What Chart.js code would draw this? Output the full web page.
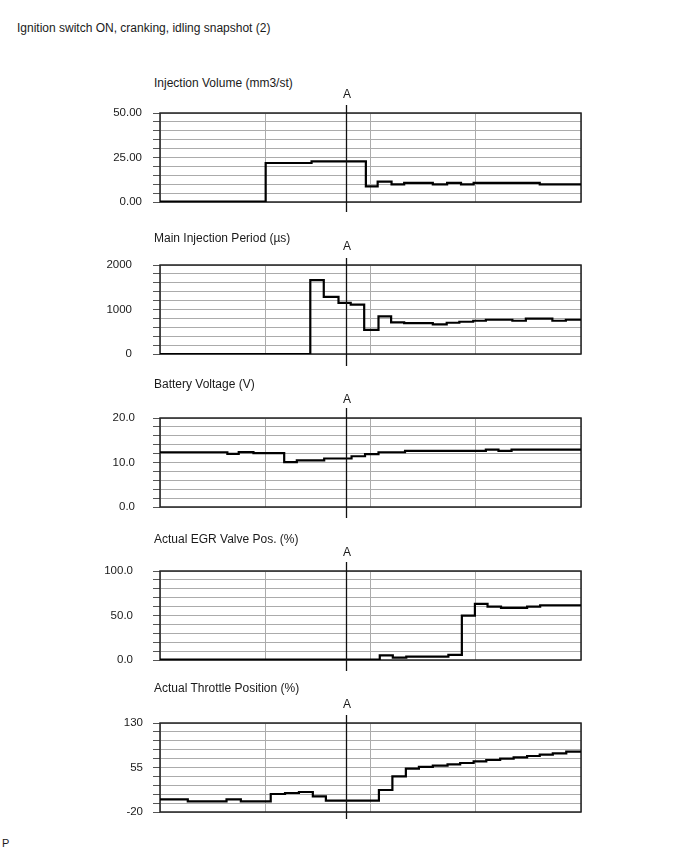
<!DOCTYPE html>
<html>
<head>
<meta charset="utf-8">
<script src="https://cdn.jsdelivr.net/npm/chart.js@4.4.1/dist/chart.umd.min.js"></script>
<style>
  html, body { margin: 0; padding: 0; background: #fff; }
  body { width: 688px; height: 852px; position: relative; overflow: hidden;
         font-family: Arial, "Liberation Sans", sans-serif; color: #1a1a1a; }
  .txt { position: absolute; font-size: 12px; line-height: 14px; white-space: nowrap; }
  canvas { position: absolute; left: 0; }
</style>
</head>
<body>
<div class="txt" style="left:17px;top:21px;">Ignition switch ON, cranking, idling snapshot (2)</div>
<div class="txt" style="left:2px;top:836px;font-size:11px;">P</div>

<script>
// ---------------- DATA ----------------
// Time axis: plot spans 0..100 (4 major divisions); cursor "A" position
const timeMin = 0, timeMax = 100, timeStep = 25;
const cursorTime = 44.2;
const cursorLabel = 'A';

// Panel titles
const titles = [
  'Injection Volume (mm3/st)',
  'Main Injection Period (\u00b5s)',
  'Battery Voltage (V)',
  'Actual EGR Valve Pos. (%)',
  'Actual Throttle Position (%)'
];

// Injection Volume
const injTimes  = [0, 25.1, 36.0, 48.9, 51.7, 55.0, 58.0, 64.8, 68.2, 71.5, 74.5, 90.2, 100];
const injValues = [0.2, 21.9, 22.8, 8.8, 11.4, 9.9, 10.7, 9.9, 10.7, 9.9, 10.7, 9.9, 9.9];
const injTickValues = [0, 25, 50];
const injTickLabels = ['0.00', '25.00', '50.00'];

// Main Injection Period
const mipTimes  = [0, 35.7, 38.9, 42.4, 45.3, 48.5, 51.9, 54.9, 58.0, 64.8, 68.1, 71.1, 74.4, 77.4, 83.7, 86.9, 93.2, 96.4, 100];
const mipValues = [0, 1660, 1283, 1147, 1110, 543, 845, 709, 694, 665, 702, 725, 747, 770, 747, 793, 747, 770, 770];
const mipTickValues = [0, 1000, 2000];
const mipTickLabels = ['0', '1000', '2000'];

// Battery Voltage
const batTimes  = [0, 16.0, 18.7, 22.2, 29.5, 32.5, 39.0, 45.5, 48.7, 51.9, 58.2, 77.4, 80.4, 83.5, 100];
const batValues = [12.3, 11.95, 12.35, 12.1, 10.1, 10.5, 10.9, 11.4, 11.9, 12.3, 12.6, 12.9, 12.6, 12.9, 12.9];
const batTickValues = [0, 10, 20];
const batTickLabels = ['0.0', '10.0', '20.0'];

// Actual EGR Valve Pos.
const egrTimes  = [0, 52.2, 55.3, 58.5, 68.5, 71.7, 74.8, 77.8, 81.0, 87.2, 90.3, 100];
const egrValues = [0.5, 5.3, 2.6, 3.8, 5.7, 49.8, 63, 60, 58.5, 60, 61.5, 61.5];
const egrTickValues = [0, 50, 100];
const egrTickLabels = ['0.0', '50.0', '100.0'];

// Actual Throttle Position
const thrTimes  = [0, 6.6, 15.8, 19.2, 26.3, 29.7, 33.0, 36.3, 39.4, 52.0, 55.2, 58.4, 61.5, 64.8, 68.3, 71.3, 74.5, 77.5, 80.8, 84.0, 87.2, 90.2, 93.3, 96.5, 100];
const thrValues = [1.4, -2, 1.4, -2, 10.3, 12, 13.7, 6.5, -0.8, 17.1, 40.2, 53.1, 55.9, 58.1, 60.4, 62.6, 65.4, 67.6, 69.9, 72.2, 74.4, 76.7, 78.9, 81.8, 81.8];
const thrTickValues = [-20, 55, 130];
const thrTickLabels = ['-20', '55', '130'];

// Y ranges (min, max, minor step)
const yMins  = [0, 0, 0, 0, -20];
const yMaxs  = [50, 2000, 20, 100, 130];
const ySteps = [5, 200, 2, 10, 15];

// ---------------- LAYOUT ----------------
const plotTops = [113, 265, 418, 571, 723];
const titleTops = [76, 231, 377, 532, 681];
const plotLeft = 160, plotRight = 581, plotHeight = 89;
const padTop = 40, padBottom = 40;
const canvasH = padTop + plotHeight + padBottom;
const cursorAbove = [8, 7, 10, 9, 8];
const cursorBelow = [10, 12, 11, 11, 7];
const tickPads = [11, 21, 18, 20, 10];

const series = [
  [injTimes, injValues, injTickValues, injTickLabels],
  [mipTimes, mipValues, mipTickValues, mipTickLabels],
  [batTimes, batValues, batTickValues, batTickLabels],
  [egrTimes, egrValues, egrTickValues, egrTickLabels],
  [thrTimes, thrValues, thrTickValues, thrTickLabels]
];

const FONT = 'Arial, "Liberation Sans", sans-serif';
const GRID = '#ababab';

const framePlugin = {
  id: 'frameCursor',
  beforeDatasetsDraw(chart) {
    const a = chart.chartArea, ctx = chart.ctx;
    ctx.save();
    ctx.strokeStyle = '#222';
    ctx.lineWidth = 1.5;
    ctx.strokeRect(a.left, a.top, a.right - a.left, a.bottom - a.top);
    ctx.restore();
  },
  afterDatasetsDraw(chart, args, opts) {
    const a = chart.chartArea, ctx = chart.ctx;
    const x = Math.round(chart.scales.x.getPixelForValue(opts.time)) + 0.5;
    ctx.save();
    ctx.strokeStyle = '#111';
    ctx.lineWidth = 1.3;
    ctx.beginPath();
    ctx.moveTo(x, a.top - opts.above);
    ctx.lineTo(x, a.bottom + opts.below);
    ctx.stroke();
    ctx.fillStyle = '#1a1a1a';
    ctx.font = '12px ' + FONT;
    ctx.textAlign = 'center';
    ctx.textBaseline = 'middle';
    ctx.fillText(opts.label, x + 0.5, a.top - 18);
    ctx.restore();
  }
};

series.forEach((s, i) => {
  const [times, values, tickVals, tickLabs] = s;

  const t = document.createElement('div');
  t.className = 'txt';
  t.style.left = '154px';
  t.style.top = titleTops[i] + 'px';
  t.textContent = titles[i];
  document.body.appendChild(t);

  const c = document.createElement('canvas');
  c.width = 688; c.height = canvasH;
  c.style.top = (plotTops[i] - padTop) + 'px';
  c.style.width = '688px'; c.style.height = canvasH + 'px';
  document.body.appendChild(c);

  const points = times.map((tv, k) => ({ x: tv, y: values[k] }));

  new Chart(c.getContext('2d'), {
    type: 'line',
    data: {
      datasets: [{
        data: points,
        borderColor: '#000',
        borderWidth: 2.2,
        pointRadius: 0,
        stepped: true,
        fill: false,
        tension: 0
      }]
    },
    options: {
      responsive: false,
      animation: false,
      devicePixelRatio: 1,
      layout: { padding: { top: padTop, bottom: padBottom, left: 0, right: 688 - plotRight } },
      plugins: {
        legend: { display: false },
        tooltip: { enabled: false },
        title: { display: false },
        frameCursor: { time: cursorTime, label: cursorLabel, above: cursorAbove[i], below: cursorBelow[i] }
      },
      scales: {
        x: {
          type: 'linear',
          min: timeMin, max: timeMax,
          ticks: { display: false, stepSize: timeStep },
          grid: { color: GRID, lineWidth: 1, drawTicks: false },
          border: { display: false },
          afterFit: sc => { sc.height = 0; }
        },
        y: {
          type: 'linear',
          min: yMins[i], max: yMaxs[i],
          afterFit: sc => { sc.width = plotLeft; },
          ticks: {
            stepSize: ySteps[i],
            autoSkip: false,
            padding: tickPads[i],
            color: '#1a1a1a',
            font: { family: FONT, size: 11.5 },
            callback: v => {
              const k = tickVals.findIndex(tv => Math.abs(tv - v) < 1e-6);
              return k >= 0 ? tickLabs[k] : '';
            }
          },
          grid: { color: GRID, lineWidth: 1, drawTicks: true, tickLength: 7, tickColor: '#555' },
          border: { display: false }
        }
      }
    },
    plugins: [framePlugin]
  });
});
</script>
</body>
</html>
